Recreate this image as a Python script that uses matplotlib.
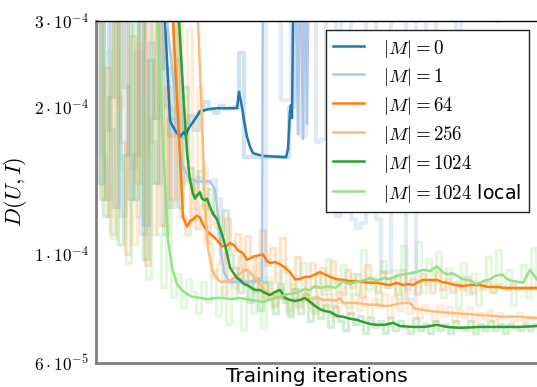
import numpy as np
import matplotlib
matplotlib.use("Agg")
import matplotlib.pyplot as plt
from matplotlib.ticker import FixedLocator, FixedFormatter, NullLocator

plt.rcParams['mathtext.fontset'] = 'cm'
plt.rcParams['font.family'] = ['DejaVu Sans']

U = 1e-5  # values below are in units of 1e-5

# ---------------- smoothed curves (iterations, value) ----------------
s0_x = [0, 40, 69, 74, 76, 80, 84, 88, 90, 92, 95, 99, 104, 112, 121, 141, 143, 144, 146, 148,
        151, 154, 157, 162, 167, 190, 192, 194, 195, 196, 197, 199, 441]
s0_y = [60, 45, 30, 18.8, 18.4, 17.8, 17.4, 17.8, 17.5, 18.0, 18.4, 18.9, 19.6, 19.8, 19.9, 19.9, 21.5, 21.0, 20.0, 18.8,
        17.4, 16.6, 16.1, 16.0, 15.9, 15.8, 16.4, 19.6, 20.2, 19.0, 29.5, 45, 60]

s1_x = [0, 60, 71, 76, 80, 84, 87, 91, 94, 101, 108, 114, 119, 122, 125, 128, 133, 140, 147, 154,
        161, 166, 167, 199, 202, 204, 207, 209, 211, 213, 441]
s1_y = [60, 40, 30, 24, 20, 16.5, 15.0, 14.6, 14.3, 14.1, 14.1, 14.1, 13.6, 12.0, 10.2, 9.2, 8.8, 8.8, 8.75, 8.8,
        8.8, 8.85, 45, 45, 17.6, 45, 17.2, 45, 18.5, 45, 60]

s64_x = [0, 50, 77, 82, 85, 87, 91, 94, 97, 101, 104, 107, 112, 117, 121, 126, 130, 134, 138, 142,
         147, 151, 154, 157, 162, 167, 171, 174, 179, 184, 189, 194, 199, 204, 209, 214, 219, 224, 229, 234,
         241, 247, 254, 261, 267, 274, 281, 287, 294, 301, 307, 312, 317, 322, 327, 334, 341, 346, 351, 359,
         367, 374, 384, 392, 401, 409, 417, 429, 441]
s64_y = [60, 45, 30, 19.0, 14.5, 11.9, 11.4, 11.7, 11.8, 12.0, 11.9, 11.5, 11.1, 10.9, 10.7, 10.4, 10.4, 10.55, 10.45, 10.2,
         10.05, 9.75, 9.8, 9.9, 9.95, 10.0, 9.7, 9.6, 9.65, 9.55, 9.4, 9.2, 8.9, 8.9, 9.0, 9.0, 9.1, 9.2, 9.1, 9.0,
         8.9, 8.87, 8.82, 8.82, 8.78, 8.75, 8.75, 8.7, 8.66, 8.75, 8.66, 8.7, 8.66, 8.78, 8.87, 8.87, 8.87, 8.78, 8.75, 8.66,
         8.62, 8.66, 8.66, 8.58, 8.58, 8.54, 8.54, 8.54, 8.54]

s256_x = [0, 60, 102, 106, 109, 112, 116, 122, 126, 134, 140, 147, 151, 154, 158, 161, 164, 167, 172, 177,
          184, 191, 199, 207, 214, 221, 228, 234, 241, 244, 247, 254, 261, 268, 274, 281, 288, 294, 301, 307,
          314, 319, 324, 334, 344, 351, 361, 371, 384, 394, 404, 414, 424, 432, 441]
s256_y = [60, 45, 30, 18.8, 12.5, 10.3, 9.3, 8.87, 8.78, 8.85, 9.0, 9.25, 9.3, 9.2, 9.0, 8.87, 8.7, 8.5, 8.35, 8.25,
          8.15, 8.1, 8.07, 8.07, 8.1, 8.15, 8.07, 8.07, 8.05, 8.15, 7.96, 7.96, 7.96, 7.92, 7.89, 7.9, 7.85, 7.85, 7.93, 7.96,
          7.96, 7.75, 7.72, 7.66, 7.63, 7.6, 7.58, 7.55, 7.52, 7.5, 7.46, 7.46, 7.46, 7.43, 7.42]

s1024_x = [0, 50, 83, 87, 91, 94, 97, 99, 101, 104, 106, 109, 111, 114, 117, 121, 124, 126, 129, 131,
           134, 137, 141, 144, 148, 151, 154, 159, 164, 169, 174, 179, 184, 189, 194, 199, 204, 209, 214, 219,
           224, 229, 234, 241, 247, 254, 261, 267, 274, 281, 289, 297, 304, 317, 329, 341, 351, 364, 384, 404,
           424, 441]
s1024_y = [60, 45, 30, 21.7, 16.2, 14.2, 13.3, 13.0, 13.2, 13.4, 13.0, 12.9, 13.0, 12.5, 12.1, 11.8, 11.3, 11.0, 10.45, 10.05,
           9.4, 9.2, 8.95, 8.87, 8.7, 8.66, 8.58, 8.46, 8.46, 8.34, 8.26, 8.38, 8.46, 8.15, 8.07, 8.03, 8.07, 8.15, 8.0, 7.85,
           7.73, 7.66, 7.63, 7.49, 7.46, 7.39, 7.35, 7.28, 7.21, 7.18, 7.18, 7.25, 7.14, 7.11, 7.11, 7.18, 7.11, 7.08, 7.11, 7.11,
           7.11, 7.14]

sloc_x = [0, 50, 61, 66, 70, 72, 76, 81, 86, 91, 96, 104, 112, 120, 127, 135, 143, 151, 159, 167,
          175, 184, 192, 201, 209, 214, 218, 224, 232, 240, 247, 254, 261, 268, 274, 281, 288, 294, 301, 307,
          314, 320, 327, 334, 341, 347, 351, 356, 361, 367, 374, 380, 384, 389, 394, 400, 406, 410, 414, 421,
          427, 434, 441]
sloc_y = [50, 40, 30, 18.8, 12.7, 10.7, 9.4, 8.7, 8.45, 8.3, 8.2, 8.15, 8.1, 8.15, 8.15, 8.1, 8.15, 8.1, 8.05, 8.0,
          8.1, 8.2, 8.3, 8.35, 8.5, 8.45, 8.6, 8.55, 8.6, 8.55, 8.8, 8.7, 8.8, 8.85, 8.95, 8.85, 8.95, 8.9, 9.05, 9.1,
          9.15, 9.2, 9.3, 9.25, 9.45, 9.2, 9.1, 9.15, 9.05, 8.9, 8.85, 8.7, 8.75, 8.85, 8.9, 9.05, 9.1, 8.95, 8.85, 8.8,
          8.75, 9.3, 8.9]

# ---------------- raw (unsmoothed) curves, one sample every 5 iterations ----------------
raw0 = [45, 14, 32, 18, 12.5, 40, 22, 13, 16, 38, 11.5, 27, 19, 35, 24, 17.5, 18.8, 17.4, 18.6, 19.2,
        18.0, 19.6, 20.5, 19.8, 19.5, 20.1, 19.8, 19.9, 20.0, 25.8, 15.8, 15.8, 15.8, 15.8, 15.8, 15.8, 15.8, 15.8, 15.8, 20,
        45, 50, 50, 50, 50, 50, 50, 50, 50, 50, 50, 50, 50, 50, 50, 50, 50, 50, 50, 50,
        50, 50, 50, 50, 50, 50, 50, 50, 50, 50, 50, 50, 50, 50, 50, 50, 50, 50, 50, 50,
        50, 50, 50, 50, 50, 50, 50, 50, 50]

raw1 = [40, 16, 13, 30, 21, 12, 36, 15, 26, 11, 45, 17, 14, 33, 20, 12.5, 25, 15, 14.2, 14.0,
        14.3, 14.1, 14.0, 14.2, 13.0, 10.0, 8.8, 8.8, 8.9, 8.8, 8.8, 8.8, 8.9, 8.8, 45, 45, 45, 20.7, 20.7, 45,
        45, 17.5, 45, 45, 17.0, 17.2, 45, 45, 12.0, 45, 45, 11.8, 11.3, 11.6, 45, 45, 11.8, 9.2, 9.2, 45,
        45, 45, 8.1, 8.1, 45, 45, 12.3, 12.3, 45, 45, 45, 45, 25, 45, 45, 45, 45, 45, 45, 45,
        30, 45, 45, 45, 45, 45, 45, 45, 45]

raw64 = [42, 13, 24, 11, 36, 17, 10, 28, 14, 45, 9.5, 19, 32, 11.5, 22, 13, 30, 12, 11.0, 13.8,
         11.3, 12.6, 10.6, 12.2, 11.4, 9.6, 11.8, 10.2, 11.0, 9.4, 10.9, 9.9, 8.9, 11.2, 9.5, 10.3, 8.8, 10.8, 9.2, 8.5,
         9.9, 9.0, 8.3, 9.6, 8.6, 9.4, 8.5, 9.7, 8.8, 8.3, 9.3, 8.6, 9.1, 8.2, 9.5, 8.8, 8.4, 9.2, 8.6, 9.0,
         8.3, 9.3, 8.5, 8.9, 8.3, 9.1, 8.7, 8.4, 9.2, 8.5, 8.9, 8.4, 8.8, 8.5, 9.0, 8.4, 8.7, 8.5, 8.8, 8.4,
         8.7, 8.6, 8.5, 8.7, 8.5, 8.6, 8.5, 8.6, 8.5]

raw256 = [38, 15, 12, 33, 20, 44, 13, 10.5, 27, 16, 40, 11, 24, 35, 12.5, 18, 42, 14, 29, 11.8,
          22, 15, 10.5, 9.0, 9.6, 8.3, 9.4, 8.6, 9.9, 8.9, 9.5, 8.4, 9.6, 8.2, 8.8, 7.9, 8.6, 8.2, 7.7, 8.5,
          7.8, 8.4, 8.0, 7.6, 8.6, 7.8, 8.3, 7.5, 8.4, 7.9, 7.6, 8.3, 7.7, 8.2, 7.5, 8.1, 7.8, 8.3, 7.5, 8.2,
          7.7, 8.4, 7.6, 8.0, 7.4, 7.9, 7.6, 7.3, 7.9, 7.5, 7.8, 7.3, 7.7, 7.4, 7.8, 7.3, 7.6, 7.4, 7.7, 7.3,
          7.6, 7.4, 7.5, 7.3, 7.6, 7.3, 7.5, 7.4, 7.4]

raw1024 = [36, 12, 21, 42, 10.5, 16, 34, 13, 45, 9.8, 25, 14, 31, 11, 19, 38, 12.5, 22, 15, 13.2,
           14.8, 12.4, 13.6, 12.0, 11.0, 12.3, 10.0, 9.4, 8.4, 9.3, 8.0, 8.9, 7.7, 8.8, 8.1, 7.6, 8.7, 8.0, 7.5, 8.5,
           7.6, 8.3, 7.3, 8.2, 7.4, 7.9, 7.1, 7.8, 7.3, 7.0, 7.6, 7.2, 7.5, 6.9, 7.4, 7.1, 7.3, 6.9, 7.4, 7.0,
           7.3, 7.1, 6.9, 7.4, 7.0, 7.2, 6.9, 7.3, 7.0, 7.2, 6.9, 7.3, 7.1, 7.0, 7.3, 6.9, 7.2, 7.0, 7.3, 7.0,
           7.2, 6.9, 7.2, 7.1, 7.0, 7.2, 7.0, 7.2, 7.1]

rawloc = [40, 13, 26, 10.8, 45, 15, 9.6, 33, 12, 21, 8.9, 36, 11, 8.6, 13, 8.2, 9.1, 7.8, 8.9, 8.4,
          7.6, 8.8, 8.0, 9.3, 7.5, 8.6, 7.2, 8.9, 8.1, 7.0, 8.7, 7.6, 8.5, 7.1, 9.0, 7.8, 8.4, 9.3, 7.6, 8.7,
          7.9, 9.6, 8.2, 7.7, 9.2, 8.3, 9.8, 7.9, 8.8, 9.5, 7.8, 9.1, 8.3, 10.2, 8.5, 9.0, 7.9, 9.7, 8.6, 9.3,
          8.1, 10.4, 8.8, 9.2, 10.6, 8.4, 9.8, 8.7, 10.1, 8.2, 9.4, 8.8, 7.8, 9.6, 8.3, 9.1, 7.9, 8.7, 9.9, 8.4,
          10.2, 8.6, 9.3, 7.9, 8.8, 9.5, 8.2, 10.3, 8.6]

raw_offsets = [0, 2, 1, 3, 4, 2]   # sample phase of each raw run

labels = [r'$|M| = 0$', r'$|M| = 1$', r'$|M| = 64$', r'$|M| = 256$', r'$|M| = 1024$', r'$|M| = 1024$ local']
colors = ['#1f77b4', '#aec7e8', '#ff7f0e', '#ffbb78', '#2ca02c', '#98df8a']

ytick_vals = [6e-5, 1e-4, 2e-4, 3e-4]
ytick_labels = [r'$6\cdot10^{-5}$', r'$1\cdot10^{-4}$', r'$2\cdot10^{-4}$', r'$3\cdot10^{-4}$']

fig = plt.figure(figsize=(5.37, 3.87), dpi=100)
ax = fig.add_axes([96/537, 24/387, 441/537, 342/387])

raws = [raw0, raw1, raw64, raw256, raw1024, rawloc]
raw_alpha = [0.2, 0.35, 0.22, 0.28, 0.2, 0.25]
raw_lw = [3.0, 3.0, 2.4, 2.4, 2.4, 2.4]
for r, c, a, off, lw in zip(raws, colors, raw_alpha, raw_offsets, raw_lw):
    rx = np.arange(len(r)) * 5 + off
    ax.plot(rx, np.array(r) * U, color=c, alpha=a, lw=lw, drawstyle='steps-mid')

smooth = [(s0_x, s0_y), (s1_x, s1_y), (s64_x, s64_y), (s256_x, s256_y), (s1024_x, s1024_y), (sloc_x, sloc_y)]
for (sx, sy), c, lab in zip(smooth, colors, labels):
    ax.plot(sx, np.array(sy) * U, color=c, lw=1.8, label=lab)

ax.set_yscale('log')
ax.set_ylim(6e-5, 3e-4)
ax.set_xlim(0, 441)
ax.yaxis.set_major_locator(FixedLocator(ytick_vals))
ax.yaxis.set_major_formatter(FixedFormatter(ytick_labels))
ax.yaxis.set_minor_locator(NullLocator())
ax.set_xticks([])
ax.tick_params(axis='y', length=0, pad=5, labelsize=12.5)

for s in ['left', 'bottom']:
    ax.spines[s].set_color('#808080')
    ax.spines[s].set_linewidth(2.0)
ax.spines['top'].set_color('black')
ax.spines['top'].set_linewidth(1.0)
ax.spines['right'].set_visible(False)

ax.set_xlabel('Training iterations', fontsize=14.5, labelpad=3)
ax.set_ylabel(r'$D(U,I)$', fontsize=16, labelpad=4)

leg = ax.legend(loc='upper right', bbox_to_anchor=((529-96)/441, (363-30)/342), borderaxespad=0,
                fontsize=13.6, fancybox=False, framealpha=1, edgecolor='#222222',
                handlelength=1.6, handleheight=1.2, handletextpad=1.05, labelspacing=0.36, borderpad=0.4)
leg.get_frame().set_linewidth(1.0)

fig.savefig('out.png', dpi=100)
